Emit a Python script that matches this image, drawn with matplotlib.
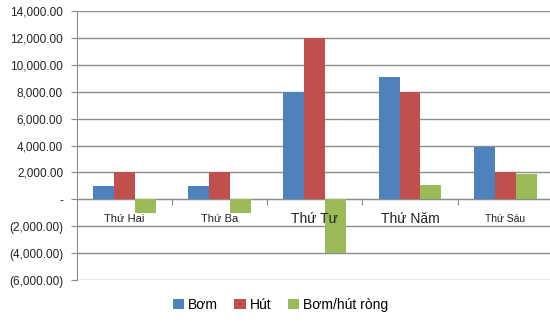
import numpy as np
import matplotlib.pyplot as plt
from matplotlib.ticker import FuncFormatter

# Data
days = ['Thứ Hai', 'Thứ Ba', 'Thứ Tư', 'Thứ Năm', 'Thứ Sáu']
bom = [1000, 1000, 8000, 9100, 3900]
hut = [2000, 2000, 12000, 8000, 2000]
rong = [-1000, -1000, -4000, 1100, 1900]
series_names = ['Bơm', 'Hút', 'Bơm/hút ròng']
label_sizes = [8, 8, 10, 10, 7.5]


def fmt(v, pos):
    if abs(v) < 1e-9:
        return '-'
    if v < 0:
        return '({:,.2f})'.format(-v)
    return '{:,.2f}'.format(v)


def main():
    plt.rcParams['font.family'] = ['Liberation Sans', 'DejaVu Sans']
    fig = plt.figure(figsize=(5.5, 3.23), dpi=100)
    ax = fig.add_axes([0.14, 0.133, 0.865, 0.833])

    x = np.arange(len(days))
    w = 0.22
    colors = ['#4F81BD', '#C0504D', '#9BBB59']
    for i, (vals, name) in enumerate(zip([bom, hut, rong], series_names)):
        ax.bar(x + (i - 1) * w, vals, w, color=colors[i], label=name, zorder=3)

    ax.set_xlim(-0.5, 4.5)
    ax.set_ylim(-6000, 14000)
    ax.set_yticks(np.arange(-6000, 14001, 2000))
    ax.yaxis.set_major_formatter(FuncFormatter(fmt))
    ax.grid(True, axis='y', color='#8c8c8c', linewidth=1, zorder=0)
    ax.tick_params(axis='y', length=4, color='#8c8c8c', labelsize=8.5, pad=6, labelcolor='#222222')

    for s in ['top', 'right']:
        ax.spines[s].set_visible(False)
    ax.spines['left'].set_color('#8c8c8c')
    ax.spines['bottom'].set_position(('data', 0))
    ax.spines['bottom'].set_color('#8c8c8c')

    # category labels drawn as text so they sit above the bars
    ax.set_xticks(x[:-1] + 0.5)
    ax.set_xticklabels([])
    ax.tick_params(axis='x', length=4, color='#8c8c8c', direction='out')
    for xi, day, fs in zip(x, days, label_sizes):
        ax.annotate(day, (xi, 0), xytext=(0, -14), textcoords='offset points',
                    ha='center', va='center', fontsize=fs, color='#222222', zorder=5)

    fig.legend(loc='center', bbox_to_anchor=(0.51, 0.056), ncol=3, frameon=False,
               handlelength=0.8, handleheight=0.8, handletextpad=0.3, columnspacing=1.2,
               fontsize=10)

    fig.savefig('out.png', dpi=100)
    plt.close(fig)


if __name__ == '__main__':
    main()
